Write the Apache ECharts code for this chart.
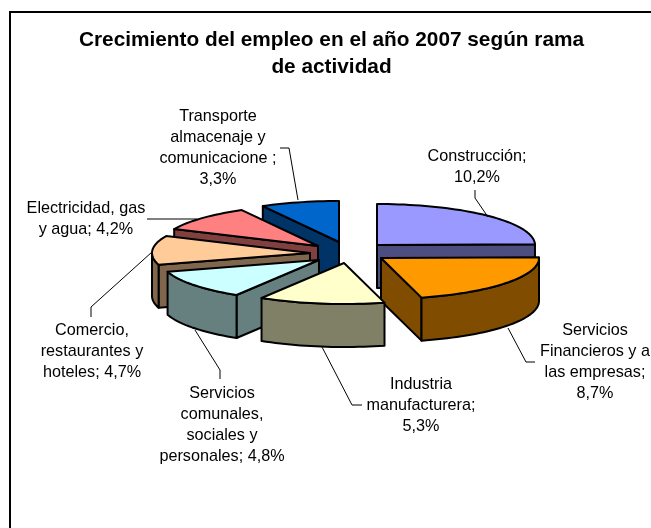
<!DOCTYPE html>
<html><head><meta charset="utf-8">
<style>html,body{margin:0;padding:0;background:#fff}#c{width:651px;height:528px}</style>
<script src="https://cdn.jsdelivr.net/npm/echarts@6/dist/echarts.min.js"></script>
</head><body><div id="c"></div>
<script>
const categories = ['Construcción','Servicios Financieros y a las empresas','Industria manufacturera','Servicios comunales, sociales y personales','Comercio, restaurantes y hoteles','Electricidad, gas y agua','Transporte almacenaje y comunicacione '];
const values = [10.2, 8.7, 5.3, 4.8, 4.7, 4.2, 3.3];
const topColors = ['#9999FF','#FF9900','#FFFFCC','#CCFFFF','#FFCC99','#FF8080','#0066CC'];
const sideColors = ['#4D4D80','#804D00','#808066','#668080','#80664D','#804040','#003366'];
const titleLines = ['Crecimiento del empleo en el año 2007 según rama','de actividad'];
const labelLines = [
  ['Construcción;','10,2%'],
  ['Servicios','Financieros y a','las empresas;','8,7%'],
  ['Industria','manufacturera;','5,3%'],
  ['Servicios','comunales,','sociales y','personales; 4,8%'],
  ['Comercio,','restaurantes y','hoteles; 4,7%'],
  ['Electricidad, gas','y agua; 4,2%'],
  ['Transporte','almacenaje y','comunicacione ;','3,3%']
];
// layout (pixels): exploded apex of each wedge, label centres, leader lines
const apex = [[377,245],[381,258],[344,263],[319,260],[310,253],[318,246],[339,242]];
const labelPos = [[477,167.5],[595,362],[421,406],[222,425],[92,351.5],[86,219],[218,148]];
const leaders = [
  [[475,190],[475,198],[488,217]],
  [[508,328],[526,362],[535,362]],
  [[362,405],[352,405],[322,347]],
  [[195,330],[220,370],[220,379]],
  [[91,317],[91,307],[152,252]],
  [[147,219],[197,219]],
  [[280,148],[289,148],[298,200]]
];
const drawOrder = [0,1,6,5,4,3,2];
const RX = 158, RY = 41, DEPTH = 43;

const total = values.reduce((a,b)=>a+b,0);
const starts = []; values.reduce((acc,v,i)=>{starts[i]=acc; return acc+v/total*360;},0);
function pt(i,deg){const r=deg*Math.PI/180; return [apex[i][0]+RX*Math.sin(r), apex[i][1]-RY*Math.cos(r)];}
function down(p){return [p[0],p[1]+DEPTH];}
function face(points,fill,z){
  return {type:'polygon',z2:z,shape:{points},style:{fill,stroke:'#000',lineWidth:2,lineJoin:'round'}};
}
function renderItem(params,api){
  const i = api.value(1), v = api.value(0);
  const a0 = starts[i], a1 = a0 + v/total*360;
  const arc = [];
  const n = Math.ceil((a1-a0)/2);
  for(let k=0;k<=n;k++) arc.push(pt(i,a0+(a1-a0)*k/n));
  const A = apex[i], S = arc[0], E = arc[n], z = drawOrder.indexOf(i)*10;
  const children = [];
  // radial walls, visible when the edge runs leftwards on screen (clockwise outline)
  if(S[0] < A[0]-0.5) children.push(face([A,S,down(S),down(A)],sideColors[i],z));
  if(A[0] < E[0]-0.5) children.push(face([E,A,down(A),down(E)],sideColors[i],z+1));
  // outer wall: the front half of the rim
  const lo = Math.max(a0,90), hi = Math.min(a1,270);
  if(hi>lo){
    const pts=[]; const m=Math.ceil((hi-lo)/2);
    for(let k=0;k<=m;k++) pts.push(pt(i,lo+(hi-lo)*k/m));
    children.push(face(pts.concat(pts.slice().reverse().map(down)),sideColors[i],z+2));
  }
  children.push(face([A].concat(arc),topColors[i],z+3));
  return {type:'group',children};
}
const graphics = [{
  type:'polyline',z:0,shape:{points:[[10,528],[10,12],[651,12]]},style:{fill:null,stroke:'#000',lineWidth:2}
}];
leaders.forEach(pts=>graphics.push({type:'polyline',z:5,shape:{points:pts},style:{fill:null,stroke:'#000',lineWidth:1}}));
labelLines.forEach((lines,i)=>graphics.push({
  type:'text',z:6,x:labelPos[i][0],y:labelPos[i][1],
  style:{text:lines.join('\n'),fill:'#000',font:'16.2px "Liberation Sans", Arial, sans-serif',lineHeight:21,align:'center',verticalAlign:'middle'}
}));
const chart = echarts.init(document.getElementById('c'),null,{renderer:'canvas'});
chart.setOption({
  animation:false,
  title:{text:titleLines.join('\n'),left:331.5,top:26.5,padding:0,textAlign:'center',
    textStyle:{fontFamily:'"Liberation Sans", Arial, sans-serif',fontWeight:'bold',fontSize:20.8,lineHeight:27,color:'#000'}},
  series:[{type:'custom',coordinateSystem:'none',silent:true,z:2,renderItem,
    encode:{value:0},
    data:drawOrder.map(i=>({name:categories[i],value:[values[i],i]}))}],
  graphic:graphics
});
</script></body></html>
